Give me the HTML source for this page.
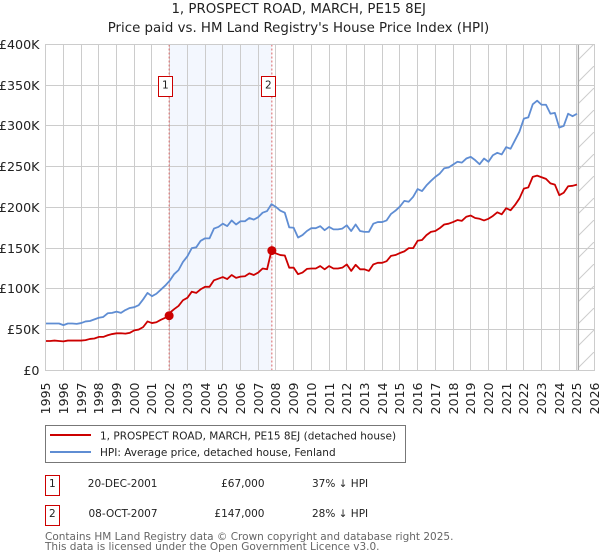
<!DOCTYPE html>
<html>
<head>
<meta charset="utf-8">
<title>1, PROSPECT ROAD, MARCH, PE15 8EJ</title>
<style>
html,body{margin:0;padding:0;background:#fff;width:600px;height:560px;overflow:hidden}
svg{display:block}
text{font-family:"DejaVu Sans","Liberation Sans",sans-serif;fill:#222}
</style>
</head>
<body>
<svg id="chart" xmlns="http://www.w3.org/2000/svg" width="600" height="560" viewBox="0 0 600 560">
  <defs>
    <pattern id="hatch" patternUnits="userSpaceOnUse" width="22" height="22">
      <line x1="0" y1="22" x2="22" y2="0" stroke="#ccc" stroke-width="1"/>
    </pattern>
  </defs>
  <text x="298.7" y="13" font-size="13.35" text-anchor="middle">1, PROSPECT ROAD, MARCH, PE15 8EJ</text>
  <text x="298.5" y="32" font-size="13.35" text-anchor="middle">Price paid vs. HM Land Registry's House Price Index (HPI)</text>
  <g id="plot"></g>

  <g>
    <rect x="45.5" y="425.5" width="360" height="37" fill="#fff" stroke="#777" stroke-width="1"/>
    <line x1="50" y1="435" x2="91" y2="435" stroke="#cc0000" stroke-width="2"/>
    <text x="100" y="439.5" font-size="10.5">1, PROSPECT ROAD, MARCH, PE15 8EJ (detached house)</text>
    <line x1="50" y1="452" x2="91" y2="452" stroke="#5f8dd3" stroke-width="2"/>
    <text x="100" y="456" font-size="10.5">HPI: Average price, detached house, Fenland</text>
  </g>

  <g>
    <rect x="45.5" y="475.5" width="14" height="20" fill="#fff" stroke="#cc0000"/>
    <text x="52.3" y="487" font-size="10.5" text-anchor="middle">1</text>
    <text x="157.5" y="487" font-size="10.5" text-anchor="end">20-DEC-2001</text>
    <text x="264.5" y="487" font-size="10.5" text-anchor="end">£67,000</text>
    <text x="312" y="487" font-size="10.5">37% ↓ HPI</text>
    <rect x="45.5" y="505.5" width="14" height="20" fill="#fff" stroke="#cc0000"/>
    <text x="52.3" y="517" font-size="10.5" text-anchor="middle">2</text>
    <text x="157.5" y="517" font-size="10.5" text-anchor="end">08-OCT-2007</text>
    <text x="264.5" y="517" font-size="10.5" text-anchor="end">£147,000</text>
    <text x="312" y="517" font-size="10.5">28% ↓ HPI</text>
  </g>

  <text x="45" y="540" font-size="10.5" style="fill:#666">Contains HM Land Registry data © Crown copyright and database right 2025.</text>
  <text x="45" y="550" font-size="10.5" style="fill:#666">This data is licensed under the Open Government Licence v3.0.</text>
</svg>
<script>
var yearTicks = [1995,1996,1997,1998,1999,2000,2001,2002,2003,2004,2005,2006,2007,2008,2009,2010,2011,2012,2013,2014,2015,2016,2017,2018,2019,2020,2021,2022,2023,2024,2025,2026];
var priceTicks = [0,50,100,150,200,250,300,350,400];
var priceTickLabels = ['£0','£50K','£100K','£150K','£200K','£250K','£300K','£350K','£400K'];
var seriesStartYear = 1995;
var samplesPerYear = 4;
var hpiValues = [
  57.5,57.5,57.5,57.5,
  55.5,57.5,57.5,57,
  58,60,60.5,62.5,
  64.5,65.5,70,70.5,
  72,70.5,74,76.5,
  77.5,80,87,95,
  91,94,99,104,
  110,118,123,133,
  140,150,151,159,
  162,162,174,176,
  180,177,184,179,
  183,183,187,185,
  188,193.5,195.5,204,
  200.5,196,193.5,175.5,
  175,163,166,171,
  174.5,174.5,177,172,
  176,173,173,174,
  178,171,179,171,
  170,170,180,182,
  182,184,192,196,
  201,208,207,213,
  222.5,220,227,232.5,
  237.5,241.5,248,249,
  252.5,256,255,260,
  262,258,253,260,
  256,264,267,265,
  274,272,282.5,293,
  309,310.5,326.5,331,
  326,326,315,316,
  298,300,315,312,
  315
];
var paidValues = [
  36,36,36.5,36,
  35.5,36.5,36.5,36.5,
  36.5,37,38.5,39,
  41,41,43,44.5,
  45.4,45.5,45,46,
  49,50,53,60,
  58,59,62,64.5,
  70.5,75,79,86,
  89,96.5,95,99.5,
  102.5,102.5,110.5,112.5,
  114.5,112,117,113.5,
  115,115.5,119,117,
  120,125,124,147,
  143.5,141.5,141,126,
  126,118,120,124.5,
  125,125,128,124,
  128,125,125,126,
  130,122,129.5,124,
  124,122,130,132,
  132,134,140.5,141.5,
  144,146,150,150,
  159,160,166,170,
  171,174.5,179,180,
  182,184.5,183.5,188.5,
  190,187,186,184,
  186,189.5,194,191.5,
  199,196.5,203,211,
  223,224.5,237.5,239,
  237,235,229.5,228,
  215,218,226,226.5,
  228
];
var saleDates = [2001.97, 2007.77];
var salePrices = [67, 147];
var saleLabels = ['1','2'];
var forecastStart = 2025.08;

var NS = 'http://www.w3.org/2000/svg';
var plot = document.getElementById('plot');
var xLeft = 45.7, xRight = 594.7, yTop = 44.5, yBottom = 370.3;
function xScale(year){ return xLeft + (year - 1995) * (xRight - xLeft) / 31; }
function yScale(value){ return yBottom - value * (yBottom - yTop) / 400; }
function crisp(v){ return Math.floor(v) + 0.5; }
function make(tag, attrs, parent){
  var el = document.createElementNS(NS, tag);
  for (var k in attrs) el.setAttribute(k, attrs[k]);
  (parent || plot).appendChild(el);
  return el;
}
function seriesPath(values){
  var d = '';
  for (var i = 0; i < values.length; i++){
    d += (i ? 'L' : 'M') + xScale(seriesStartYear + i / samplesPerYear).toFixed(2) + ' ' + yScale(values[i]).toFixed(2);
  }
  return d;
}

var shade = make('rect', {x: xScale(saleDates[0]), y: yTop, width: xScale(saleDates[1]) - xScale(saleDates[0]), height: yBottom - yTop, fill: '#f3f7fe'});



var hatchRect = make('rect', {x: xScale(forecastStart), y: yTop, width: xRight - xScale(forecastStart), height: yBottom - yTop, fill: 'url(#hatch)'});



yearTicks.forEach(function(year){
  var x = crisp(xScale(year));
  var grid = make('line', {x1: x, x2: x, y1: yTop, y2: yBottom, stroke: '#ccc', 'stroke-width': 1});
  
  
  var label = make('text', {'font-size': 12.5, 'text-anchor': 'end', transform: 'translate(' + (x + 4.5) + ',382.5) rotate(-90)'});
  
  
  label.textContent = year;
});

priceTicks.forEach(function(value, i){
  var y = crisp(yScale(value));
  var grid = make('line', {x1: xLeft, x2: xRight, y1: y, y2: y, stroke: '#ccc', 'stroke-width': 1});
  
  
  var label = make('text', {x: 39.5, y: y + 4.5, 'font-size': 12.7, 'text-anchor': 'end'});
  
  
  label.textContent = priceTickLabels[i];
});

var dataEnd = make('line', {x1: xScale(forecastStart), x2: xScale(forecastStart), y1: yTop, y2: yBottom, stroke: '#aaa', 'stroke-width': 1.3});



saleDates.forEach(function(date){
  var x = xScale(date);
  var dash = make('line', {x1: x, x2: x, y1: yTop, y2: yBottom, stroke: '#dd6666', 'stroke-width': 1, 'stroke-dasharray': '2 2'});
  
  
});

var hpiLine = make('path', {d: seriesPath(hpiValues), fill: 'none', stroke: '#5f8dd3', 'stroke-width': 1.8, 'stroke-linejoin': 'round'});



var paidLine = make('path', {d: seriesPath(paidValues), fill: 'none', stroke: '#cc0000', 'stroke-width': 1.8, 'stroke-linejoin': 'round'});



saleDates.forEach(function(date, i){
  var x = xScale(date);
  var dot = make('circle', {cx: x, cy: yScale(salePrices[i]), r: 4.5, fill: '#cc0000'});
  
  
  var box = make('rect', {x: Math.round(x) - 10.5, y: 76.5, width: 14, height: 20, fill: '#fff', stroke: '#cc0000', 'stroke-width': 1});
  
  
  var num = make('text', {x: Math.round(x) - 3.7, y: 88.5, 'font-size': 10.5, 'text-anchor': 'middle'});
  
  
  num.textContent = saleLabels[i];
});

var frame = make('rect', {x: crisp(xLeft), y: crisp(yTop), width: crisp(xRight) - crisp(xLeft), height: crisp(yBottom) - crisp(yTop), fill: 'none', stroke: '#ccc', 'stroke-width': 1});


</script>
</body>
</html>
